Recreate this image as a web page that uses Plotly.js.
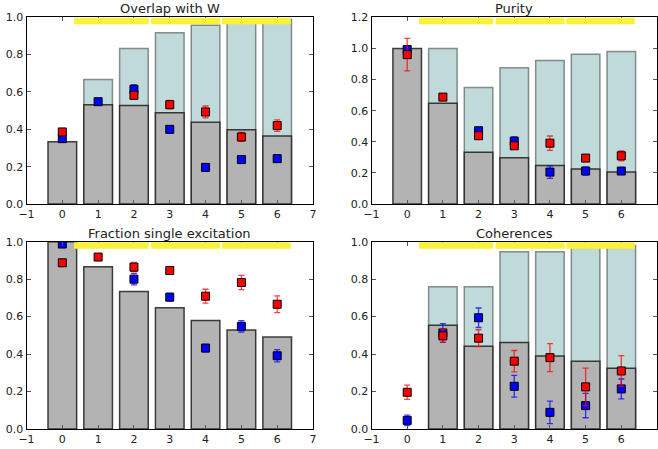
<!DOCTYPE html>
<html><head><meta charset="utf-8">
<script src="https://cdn.plot.ly/plotly-3.0.1.min.js"></script>
<style>body{margin:0;padding:0;background:#fff}#chart{width:658px;height:449px}</style>
</head><body><div id="chart"></div>
<script>
const xs = [0, 1, 2, 3, 4, 5, 6];
const titles = ["Overlap with W", "Purity", "Fraction single excitation", "Coherences"];

// Overlap with W
const overlapGrey = [0.334, 0.532, 0.527, 0.489, 0.438, 0.398, 0.364];
const overlapTeal = [null, 0.667, 0.833, 0.917, 0.958, 0.979, 0.990];
const overlapRed = [0.386, null, 0.582, 0.532, 0.493, 0.359, 0.420];
const overlapRedErr = [0.01, 0, 0.015, 0.023, 0.032, 0.024, 0.031];
const overlapBlue = [0.350, 0.548, 0.614, 0.400, 0.196, 0.238, 0.243];
const overlapBlueErr = [0.01, 0.01, 0.025, 0.02, 0.01, 0.015, 0.02];

// Purity
const purityGrey = [1.0, 0.648, 0.332, 0.297, 0.248, 0.225, 0.205];
const purityTeal = [null, 1.0, 0.749, 0.875, 0.922, 0.963, 0.980];
const purityRed = [0.960, 0.687, 0.439, 0.374, 0.391, 0.295, 0.310];
const purityRedErr = [0.104, 0.01, 0.01, 0.01, 0.046, 0.02, 0.032];
const purityBlue = [0.993, null, 0.471, 0.404, 0.205, 0.212, 0.212];
const purityBlueErr = [0.01, 0, 0.01, 0.028, 0.04, 0.025, 0.01];

// Fraction single excitation
const fracGrey = [1.0, 0.866, 0.734, 0.648, 0.579, 0.529, 0.491];
const fracTeal = [null, null, null, null, null, null, null];
const fracRed = [0.8875, 0.918, 0.864, 0.846, 0.709, 0.782, 0.666];
const fracRedErr = [0.01, 0.01, 0.025, 0.02, 0.037, 0.038, 0.045];
const fracBlue = [0.9875, null, 0.800, 0.704, 0.432, 0.548, 0.391];
const fracBlueErr = [0.01, 0, 0.03, 0.02, 0.02, 0.03, 0.033];

// Coherences
const cohGrey = [null, 0.554, 0.442, 0.462, 0.390, 0.362, 0.324];
const cohTeal = [null, 0.759, 0.759, 0.947, 0.947, 0.980, 0.980];
const cohRed = [0.196, 0.497, 0.485, 0.362, 0.381, 0.225, 0.310];
const cohRedErr = [0.038, 0.035, 0.045, 0.057, 0.075, 0.100, 0.082];
const cohBlue = [0.046, 0.513, 0.594, 0.228, 0.089, 0.125, 0.214];
const cohBlueErr = [0.028, 0.050, 0.052, 0.058, 0.060, 0.065, 0.053];

// yellow band segments (x ranges)
const bandStart = [0.33, 2.48, 4.46];
const bandEnd = [2.41, 4.41, 6.38];

const panels = [
  {grey: overlapGrey, teal: overlapTeal, red: overlapRed, redErr: overlapRedErr, blue: overlapBlue, blueErr: overlapBlueErr, ymax: 1.0},
  {grey: purityGrey, teal: purityTeal, red: purityRed, redErr: purityRedErr, blue: purityBlue, blueErr: purityBlueErr, ymax: 1.2},
  {grey: fracGrey, teal: fracTeal, red: fracRed, redErr: fracRedErr, blue: fracBlue, blueErr: fracBlueErr, ymax: 1.0},
  {grey: cohGrey, teal: cohTeal, red: cohRed, redErr: cohRedErr, blue: cohBlue, blueErr: cohBlueErr, ymax: 1.0}
];

const W = 658, H = 449;
const boxes = [
  {x0: 26.5, x1: 313, y0: 17.3, y1: 204},
  {x0: 371.5, x1: 657, y0: 17.3, y1: 204},
  {x0: 26.5, x1: 313, y0: 241.7, y1: 429},
  {x0: 371.5, x1: 657, y0: 241.7, y1: 429}
];

const traces = [];
const layout = {
  width: W, height: H,
  margin: {l: 0, r: 0, t: 0, b: 0},
  paper_bgcolor: '#fff', plot_bgcolor: '#fff',
  showlegend: false,
  barmode: 'overlay',
  font: {family: 'DejaVu Sans', size: 11, color: '#222'},
  shapes: [], annotations: []
};

panels.forEach((p, i) => {
  const n = i === 0 ? '' : String(i + 1);
  const xa = 'x' + n, ya = 'y' + n;
  const b = boxes[i];
  traces.push({type: 'bar', x: xs, y: p.teal, width: 0.8, xaxis: xa, yaxis: ya,
    marker: {color: 'rgb(192,217,217)', line: {color: 'rgba(90,100,100,0.7)', width: 1.5}}, hoverinfo: 'skip'});
  traces.push({type: 'bar', x: xs, y: p.grey, width: 0.8, xaxis: xa, yaxis: ya,
    marker: {color: '#b3b3b3', line: {color: 'rgba(30,30,30,0.85)', width: 1.5}}, hoverinfo: 'skip'});
  traces.push({type: 'scatter', mode: 'markers', x: xs, y: p.blue, xaxis: xa, yaxis: ya,
    error_y: {type: 'data', array: p.blueErr, color: 'rgba(0,0,255,0.75)', thickness: 1.3, width: 3},
    marker: {symbol: 'square', size: 8, color: '#0000ff', line: {color: '#000', width: 1}}});
  traces.push({type: 'scatter', mode: 'markers', x: xs, y: p.red, xaxis: xa, yaxis: ya,
    error_y: {type: 'data', array: p.redErr, color: 'rgba(255,0,0,0.75)', thickness: 1.3, width: 3},
    marker: {symbol: 'square', size: 8, color: '#ff0000', line: {color: '#000', width: 1}}});

  const axCommon = {showgrid: false, zeroline: false, showline: true, mirror: 'ticks', linecolor: '#000', linewidth: 1,
    ticks: 'inside', ticklen: 4, tickcolor: '#555', tickfont: {family: 'DejaVu Sans', size: 11, color: '#222'}, fixedrange: true};
  layout['xaxis' + n] = Object.assign({}, axCommon, {domain: [b.x0 / W, b.x1 / W], anchor: ya, range: [-1, 7], dtick: 1, tick0: 0});
  layout['yaxis' + n] = Object.assign({}, axCommon, {domain: [1 - b.y1 / H, 1 - b.y0 / H], anchor: xa, range: [0, p.ymax], dtick: 0.2, tick0: 0, tickformat: '.1f'});

  for (let k = 0; k < bandStart.length; k++) {
    layout.shapes.push({type: 'rect', xref: xa, yref: ya + ' domain', x0: bandStart[k], x1: bandEnd[k], y0: 0.963, y1: 0.997,
      fillcolor: '#f9f13a', line: {width: 0}, layer: 'above'});
  }
  layout.annotations.push({text: titles[i], xref: 'paper', yref: 'paper', x: (b.x0 + b.x1) / 2 / W, y: 1 - b.y0 / H,
    xanchor: 'center', yanchor: 'bottom', yshift: -1, showarrow: false, font: {family: 'DejaVu Sans', size: 13, color: '#222'}});
});

Plotly.newPlot('chart', traces, layout, {displayModeBar: false, staticPlot: true});
</script>
</body></html>
